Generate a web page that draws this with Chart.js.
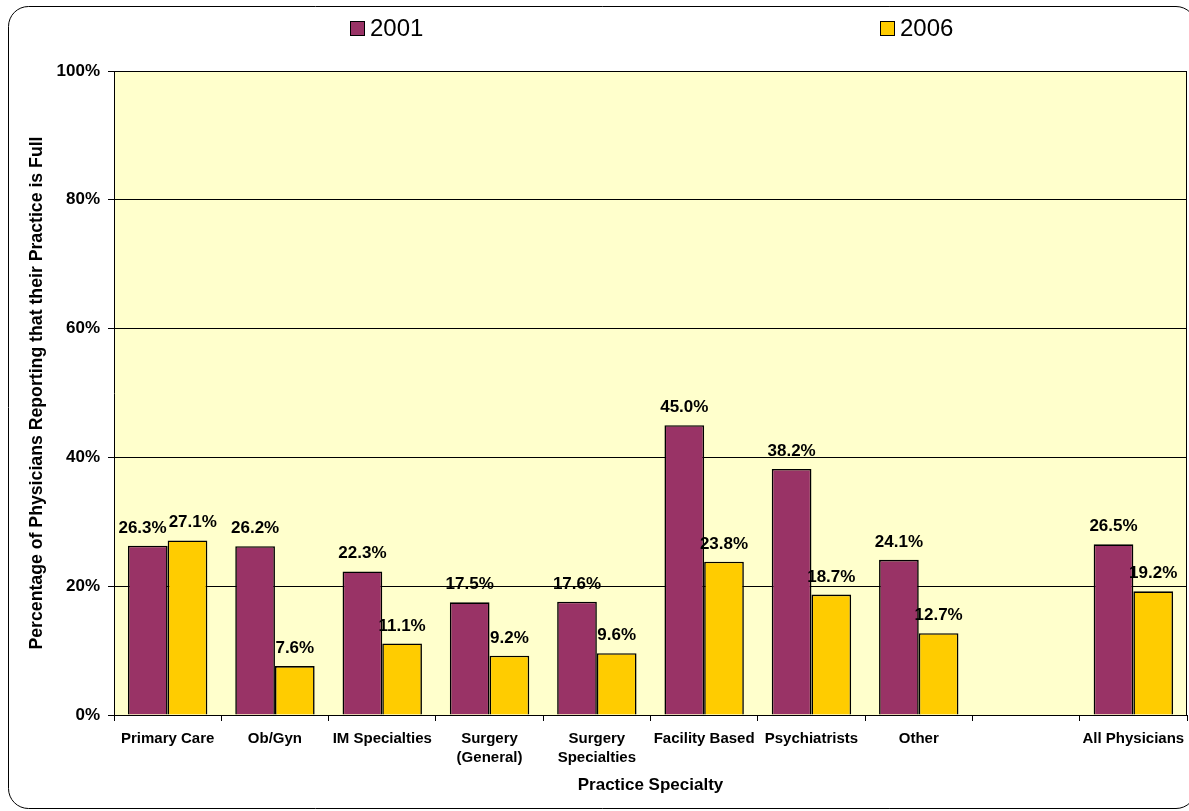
<!DOCTYPE html>
<html>
<head>
<meta charset="utf-8">
<script src="https://cdn.jsdelivr.net/npm/chart.js@4.4.1/dist/chart.umd.min.js"></script>
<style>
  html, body { margin: 0; padding: 0; background: #ffffff; }
  #wrap { position: relative; width: 1189px; height: 811px; }
</style>
</head>
<body>
<div id="wrap"><canvas id="c" width="1189" height="811"></canvas></div>
<script>
const categories = ['Primary Care', 'Ob/Gyn', 'IM Specialties', ['Surgery', '(General)'], ['Surgery', 'Specialties'], 'Facility Based', 'Psychiatrists', 'Other', '', 'All Physicians'];
const seriesNames = ['2001', '2006'];
const values2001 = [26.3, 26.2, 22.3, 17.5, 17.6, 45.0, 38.2, 24.1, null, 26.5];
const values2006 = [27.1, 7.6, 11.1, 9.2, 9.6, 23.8, 18.7, 12.7, null, 19.2];
const yTickValues = [0, 20, 40, 60, 80, 100];
const seriesColors = ['#993366', '#FFCC00'];

const FONT = '"Liberation Sans", Arial, sans-serif';

const frame = {
  id: 'frame',
  beforeDraw(chart) {
    const ctx = chart.ctx;
    ctx.save();
    ctx.fillStyle = '#ffffff';
    ctx.fillRect(0, 0, chart.width, chart.height);
    const x0 = 8.5, y0 = 6.5, x1 = 1196, y1 = 808.5, r = 20;
    ctx.beginPath();
    ctx.moveTo(x0 + r, y0);
    ctx.lineTo(x1 - r, y0);
    ctx.arcTo(x1, y0, x1, y0 + r, r);
    ctx.lineTo(x1, y1 - r);
    ctx.arcTo(x1, y1, x1 - r, y1, r);
    ctx.lineTo(x0 + r, y1);
    ctx.arcTo(x0, y1, x0, y1 - r, r);
    ctx.lineTo(x0, y0 + r);
    ctx.arcTo(x0, y0, x0 + r, y0, r);
    ctx.closePath();
    ctx.strokeStyle = '#000000';
    ctx.lineWidth = 1;
    ctx.stroke();
    const a = chart.chartArea;
    ctx.fillStyle = '#FFFFCC';
    ctx.fillRect(a.left, a.top, a.right - a.left, a.bottom - a.top);
    ctx.restore();
  },
  afterDraw(chart) {
    const ctx = chart.ctx;
    const a = chart.chartArea;
    ctx.save();
    ctx.strokeStyle = '#000000';
    ctx.lineWidth = 1;
    ctx.beginPath();
    ctx.moveTo(Math.round(a.right) - 0.5, a.top);
    ctx.lineTo(Math.round(a.right) - 0.5, a.bottom);
    ctx.stroke();
    const legendX = [350, 880];
    chart.data.datasets.forEach((ds, i) => {
      const bx = legendX[i], by = 21;
      ctx.fillStyle = ds.backgroundColor;
      ctx.fillRect(bx, by, 15, 15);
      ctx.strokeStyle = '#000000';
      ctx.strokeRect(bx + 0.5, by + 0.5, 14, 14);
      ctx.fillStyle = '#000000';
      ctx.font = '24px ' + FONT;
      ctx.textBaseline = 'middle';
      ctx.textAlign = 'left';
      ctx.fillText(ds.label, bx + 20, by + 8);
    });
    ctx.restore();
  }
};

const valueLabels = {
  id: 'valueLabels',
  afterDatasetsDraw(chart) {
    const ctx = chart.ctx;
    ctx.save();
    ctx.font = 'bold 17px ' + FONT;
    ctx.fillStyle = '#000000';
    ctx.textAlign = 'center';
    ctx.textBaseline = 'alphabetic';
    const n = chart.data.labels.length;
    for (let j = 0; j < n; j++) {
      const items = [];
      chart.data.datasets.forEach((ds, i) => {
        const v = ds.data[j];
        if (v === null || v === undefined) return;
        const el = chart.getDatasetMeta(i).data[j];
        const text = v.toFixed(1) + '%';
        const w = ctx.measureText(text).width;
        items.push({ x: el.x, y: el.y - 13, w, text });
      });
      if (items.length === 2) {
        const [l, r] = items;
        const overlap = (l.x + l.w / 2 + 2) - (r.x - r.w / 2);
        if (overlap > 0 && Math.abs(l.y - r.y) < 16) {
          l.x -= overlap / 2;
          r.x += overlap / 2;
        }
      }
      items.forEach(it => ctx.fillText(it.text, it.x, it.y));
    }
    ctx.restore();
  }
};

new Chart(document.getElementById('c'), {
  type: 'bar',
  data: {
    labels: categories,
    datasets: [
      { label: seriesNames[0], data: values2001, backgroundColor: seriesColors[0], borderColor: '#000000', borderWidth: 1.6 },
      { label: seriesNames[1], data: values2006, backgroundColor: seriesColors[1], borderColor: '#000000', borderWidth: 1.6 }
    ]
  },
  options: {
    responsive: false,
    animation: false,
    devicePixelRatio: 1,
    layout: { padding: { top: 71, right: 2, left: 0, bottom: 0 } },
    datasets: { bar: { categoryPercentage: 0.74, barPercentage: 1.0 } },
    plugins: {
      legend: { display: false },
      tooltip: { enabled: false }
    },
    scales: {
      x: {
        grid: { display: true, drawOnChartArea: false, color: '#000000', tickLength: 6, offset: true },
        border: { display: true, color: '#000000' },
        ticks: { color: '#000000', font: { family: FONT, size: 15, weight: 'bold', lineHeight: 1.27 }, maxRotation: 0, autoSkip: false, padding: 8 },
        title: { display: true, text: 'Practice Specialty', color: '#000000', font: { family: FONT, size: 17, weight: 'bold' }, padding: { top: 0, bottom: 15 } },
        afterFit(scale) { scale.height = 96; scale.paddingLeft = 0; scale.paddingRight = 0; }
      },
      y: {
        min: 0, max: 100,
        afterBuildTicks(scale) { scale.ticks = yTickValues.map(v => ({ value: v })); },
        grid: { color: '#000000', tickLength: 6, drawOnChartArea: true },
        border: { display: true, color: '#000000' },
        ticks: { color: '#000000', font: { family: FONT, size: 17, weight: 'bold' }, padding: 8, callback: v => v + '%' },
        title: { display: true, text: 'Percentage of Physicians Reporting that their Practice is Full', color: '#000000', font: { family: FONT, size: 17.7, weight: 'bold' }, padding: { top: 26, bottom: 0 } },
        afterFit(scale) { scale.width = 114; scale.paddingTop = 0; scale.paddingBottom = 0; }
      }
    }
  },
  plugins: [frame, valueLabels]
});
</script>
</body>
</html>
